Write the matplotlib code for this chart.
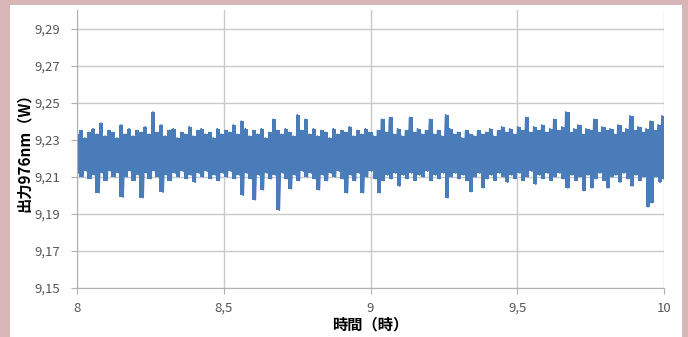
import numpy as np
import matplotlib.pyplot as plt
from matplotlib.patches import Rectangle

plt.rcParams['font.family'] = ['Noto Sans CJK JP', 'DejaVu Sans']

# upper peaks and lower troughs of the signal, read left to right (8h -> 10h)
upper = [9.233, 9.235, 9.231, 9.234, 9.236, 9.233, 9.239, 9.232, 9.235, 9.234,
         9.231, 9.238, 9.233, 9.236, 9.232, 9.235, 9.234, 9.237, 9.233, 9.245,
         9.234, 9.238, 9.232, 9.235, 9.236, 9.231, 9.234, 9.233, 9.237, 9.232,
         9.235, 9.236, 9.233, 9.234, 9.231, 9.236, 9.233, 9.235, 9.234, 9.238,
         9.233, 9.240, 9.236, 9.232, 9.235, 9.233, 9.236, 9.231, 9.234, 9.241,
         9.235, 9.233, 9.236, 9.234, 9.232, 9.2435, 9.235, 9.241, 9.233, 9.236,
         9.232, 9.235, 9.234, 9.231, 9.236, 9.233, 9.235, 9.234, 9.237, 9.232,
         9.235, 9.233, 9.236, 9.234, 9.232, 9.235, 9.241, 9.234, 9.242, 9.233,
         9.236, 9.232, 9.235, 9.242, 9.234, 9.236, 9.233, 9.235, 9.241, 9.233,
         9.235, 9.232, 9.2435, 9.236, 9.233, 9.234, 9.231, 9.235, 9.233, 9.232,
         9.235, 9.233, 9.234, 9.236, 9.232, 9.235, 9.237, 9.234, 9.236, 9.233,
         9.237, 9.235, 9.242, 9.234, 9.237, 9.235, 9.238, 9.234, 9.236, 9.241,
         9.235, 9.237, 9.245, 9.234, 9.236, 9.238, 9.233, 9.236, 9.235, 9.241,
         9.234, 9.237, 9.235, 9.236, 9.233, 9.238, 9.234, 9.236, 9.243, 9.235,
         9.237, 9.234, 9.236, 9.240, 9.235, 9.238, 9.243]
lower = [9.212, 9.210, 9.213, 9.209, 9.211, 9.2014, 9.212, 9.208, 9.213, 9.210,
         9.212, 9.199, 9.210, 9.213, 9.208, 9.211, 9.1987, 9.212, 9.209, 9.213,
         9.210, 9.2017, 9.211, 9.208, 9.212, 9.210, 9.213, 9.209, 9.211, 9.207,
         9.212, 9.210, 9.213, 9.209, 9.211, 9.208, 9.212, 9.210, 9.213, 9.209,
         9.211, 9.200, 9.212, 9.209, 9.1976, 9.211, 9.203, 9.212, 9.209, 9.211,
         9.192, 9.212, 9.209, 9.2035, 9.211, 9.208, 9.213, 9.210, 9.212, 9.209,
         9.203, 9.211, 9.208, 9.212, 9.210, 9.213, 9.209, 9.2014, 9.211, 9.208,
         9.212, 9.2014, 9.210, 9.213, 9.209, 9.2014, 9.208, 9.211, 9.209, 9.212,
         9.205, 9.211, 9.209, 9.212, 9.208, 9.211, 9.210, 9.213, 9.208, 9.211,
         9.209, 9.212, 9.1987, 9.210, 9.212, 9.209, 9.211, 9.208, 9.202, 9.210,
         9.212, 9.204, 9.209, 9.211, 9.208, 9.212, 9.210, 9.207, 9.211, 9.209,
         9.212, 9.208, 9.210, 9.213, 9.206, 9.211, 9.209, 9.212, 9.208, 9.210,
         9.212, 9.209, 9.204, 9.211, 9.208, 9.210, 9.2025, 9.211, 9.204, 9.209,
         9.212, 9.208, 9.204, 9.210, 9.211, 9.207, 9.212, 9.209, 9.205, 9.211,
         9.208, 9.210, 9.1938, 9.196, 9.210, 9.207, 9.209]

xticks = [8, 8.5, 9, 9.5, 10]
xtick_labels = ["8", "8,5", "9", "9,5", "10"]
yticks = [9.15, 9.17, 9.19, 9.21, 9.23, 9.25, 9.27, 9.29]
ytick_labels = ["9,15", "9,17", "9,19", "9,21", "9,23", "9,25", "9,27", "9,29"]

blue = '#4a7cba'
t = np.linspace(8, 10, len(upper))

# zigzag: peak, trough, peak, trough ...
y = np.empty(len(upper) + len(lower))
y[0::2] = upper
y[1::2] = lower
tz = np.linspace(8, 10, len(y))

fig = plt.figure(figsize=(6.88, 3.37), dpi=100)
fig.patch.set_facecolor('#d6b6b6')
fig.patches.append(Rectangle((10 / 688, 0), 672 / 688, 332 / 337,
                             transform=fig.transFigure, facecolor='white',
                             edgecolor='none', zorder=-10))

ax = fig.add_axes([77 / 688, 1 - 288 / 337, 587 / 688, 278 / 337])
ax.set_facecolor('white')
ax.fill_between(t, lower, upper, step='mid', color=blue, linewidth=0)
ax.plot(tz, y, color=blue, linewidth=1.2)

ax.set_xlim(8, 10)
ax.set_ylim(9.15, 9.30)
ax.set_xticks(xticks)
ax.set_xticklabels(xtick_labels)
ax.set_yticks(yticks)
ax.set_yticklabels(ytick_labels)
ax.grid(True, color='#c9c9c9', linewidth=1)
ax.set_axisbelow(True)
for s in ['top', 'right']:
    ax.spines[s].set_visible(False)
for s in ['left', 'bottom']:
    ax.spines[s].set_color('#b0b0b0')
ax.tick_params(colors='#b0b0b0', labelcolor='#555555', labelsize=9.5, length=4)
ax.tick_params(axis='x', pad=6)
ax.tick_params(axis='y', pad=8)

ax.set_ylabel("出力976nm（W）", fontsize=11, fontweight='bold', labelpad=2)
ax.set_xlabel("時間（時）", fontsize=11, fontweight='bold', labelpad=1)

fig.savefig("out.png", dpi=100)
